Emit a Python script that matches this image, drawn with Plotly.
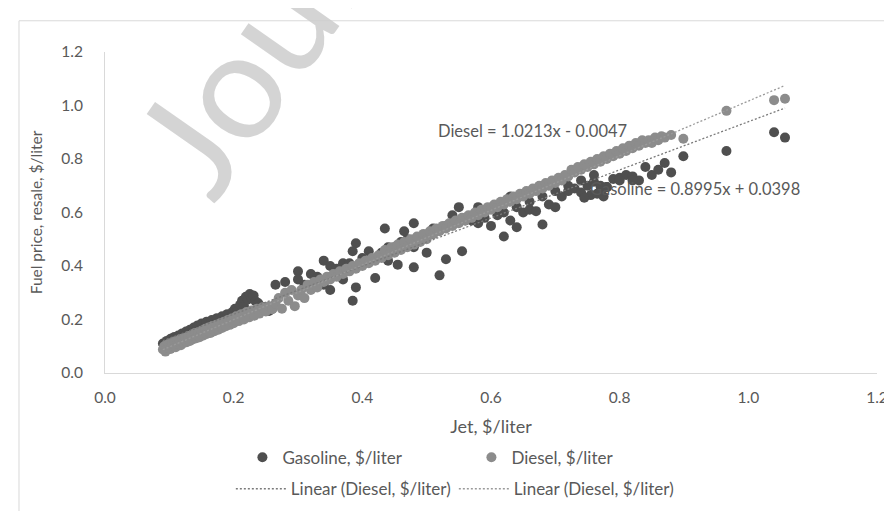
import plotly.graph_objects as go

# ---------------- data ----------------
gas_x = [0.090, 0.093, 0.096, 0.099, 0.102, 0.105, 0.108, 0.111, 0.114, 0.117,
         0.120, 0.123, 0.126, 0.129, 0.132, 0.135, 0.138, 0.141, 0.144, 0.147,
         0.150, 0.154, 0.158, 0.162, 0.166, 0.170, 0.174, 0.178, 0.182, 0.186,
         0.190, 0.194, 0.198, 0.202, 0.206, 0.210, 0.213, 0.216, 0.219, 0.222,
         0.225, 0.228, 0.231, 0.234, 0.238, 0.242, 0.246, 0.250, 0.255, 0.260,
         0.265, 0.280, 0.300, 0.320, 0.340, 0.350, 0.350, 0.385, 0.390, 0.390,
         0.385, 0.410, 0.420, 0.435, 0.455, 0.465, 0.480, 0.480, 0.500, 0.510,
         0.520, 0.530, 0.540, 0.550, 0.555, 0.560, 0.570, 0.580, 0.580, 0.590,
         0.600, 0.610, 0.620, 0.630, 0.630, 0.640, 0.650, 0.660, 0.670, 0.680,
         0.690, 0.700, 0.710, 0.720, 0.730, 0.740, 0.750, 0.760, 0.770, 0.780,
         0.790, 0.800, 0.810, 0.820, 0.830, 0.840, 0.850, 0.860, 0.870, 0.880,
         0.899, 0.966, 1.040, 1.057, 0.440, 0.460, 0.360, 0.300, 0.330, 0.370,
         0.310, 0.360, 0.380, 0.400, 0.430, 0.450, 0.470, 0.490, 0.510, 0.530,
         0.560, 0.590, 0.480, 0.440, 0.370, 0.340, 0.755, 0.765, 0.775, 0.820,
         0.745, 0.800, 0.780, 0.770, 0.760, 0.740, 0.720, 0.700, 0.680, 0.660,
         0.640, 0.620]
gas_y = [0.110, 0.100, 0.120, 0.108, 0.128, 0.115, 0.135, 0.120, 0.140, 0.128,
         0.148, 0.134, 0.155, 0.140, 0.162, 0.148, 0.170, 0.155, 0.178, 0.160,
         0.185, 0.168, 0.192, 0.175, 0.198, 0.182, 0.205, 0.190, 0.212, 0.198,
         0.220, 0.205, 0.228, 0.240, 0.232, 0.255, 0.270, 0.250, 0.285, 0.275,
         0.295, 0.280, 0.290, 0.268, 0.262, 0.250, 0.240, 0.245, 0.232, 0.240,
         0.330, 0.340, 0.380, 0.370, 0.420, 0.400, 0.310, 0.270, 0.320, 0.485,
         0.455, 0.455, 0.355, 0.540, 0.405, 0.530, 0.560, 0.395, 0.450, 0.540,
         0.365, 0.425, 0.590, 0.620, 0.455, 0.570, 0.570, 0.560, 0.620, 0.580,
         0.550, 0.590, 0.510, 0.570, 0.660, 0.545, 0.600, 0.610, 0.605, 0.555,
         0.630, 0.620, 0.660, 0.680, 0.690, 0.675, 0.700, 0.715, 0.700, 0.695,
         0.725, 0.730, 0.740, 0.735, 0.720, 0.770, 0.740, 0.760, 0.785, 0.750,
         0.810, 0.830, 0.900, 0.880, 0.470, 0.490, 0.390, 0.350, 0.360, 0.410,
         0.330, 0.370, 0.410, 0.430, 0.450, 0.470, 0.500, 0.500, 0.520, 0.550,
         0.580, 0.600, 0.470, 0.420, 0.350, 0.330, 0.665, 0.670, 0.660, 0.720,
         0.655, 0.720, 0.695, 0.680, 0.740, 0.720, 0.700, 0.680, 0.660, 0.640,
         0.620, 0.600]

diesel_x = [0.090, 0.092, 0.094, 0.096, 0.098, 0.100, 0.102, 0.104, 0.106, 0.108,
            0.110, 0.112, 0.114, 0.116, 0.118, 0.120, 0.122, 0.125, 0.127, 0.130,
            0.132, 0.135, 0.137, 0.140, 0.142, 0.145, 0.147, 0.150, 0.153, 0.156,
            0.158, 0.161, 0.164, 0.167, 0.170, 0.173, 0.176, 0.179, 0.182, 0.185,
            0.188, 0.191, 0.194, 0.197, 0.200, 0.204, 0.208, 0.212, 0.216, 0.220,
            0.224, 0.228, 0.232, 0.236, 0.240, 0.245, 0.250, 0.255, 0.260,
            0.265, 0.270, 0.275, 0.280, 0.285, 0.290, 0.295, 0.300, 0.305, 0.310,
            0.315, 0.320, 0.325, 0.330, 0.335, 0.340, 0.345, 0.350, 0.355, 0.360,
            0.365, 0.370, 0.375, 0.380, 0.385, 0.390, 0.395, 0.400, 0.405, 0.410,
            0.415, 0.420, 0.425, 0.430, 0.435, 0.440, 0.445, 0.450, 0.455, 0.460,
            0.465, 0.470, 0.475, 0.480, 0.485, 0.490, 0.495, 0.500, 0.505, 0.510,
            0.515, 0.520, 0.525, 0.530, 0.535, 0.540, 0.545, 0.550, 0.555, 0.560,
            0.565, 0.570, 0.575, 0.580, 0.585, 0.590, 0.595, 0.600,
            0.605, 0.610, 0.615, 0.620, 0.625, 0.630, 0.635, 0.640, 0.645, 0.650,
            0.655, 0.660, 0.665, 0.670, 0.675, 0.680, 0.685, 0.690, 0.695, 0.700,
            0.705, 0.710, 0.715, 0.720, 0.725, 0.730, 0.735, 0.740, 0.745, 0.750,
            0.755, 0.760, 0.765, 0.770, 0.775, 0.780, 0.785, 0.790, 0.795, 0.800,
            0.805, 0.810, 0.815, 0.820, 0.825, 0.830, 0.835, 0.840, 0.845, 0.850,
            0.855, 0.860, 0.865, 0.870, 0.880, 0.899, 0.966, 1.040, 1.057]
diesel_y = [0.088, 0.100, 0.080, 0.105, 0.094, 0.110, 0.090, 0.112, 0.100, 0.118,
            0.096, 0.120, 0.108, 0.125, 0.104, 0.128, 0.112, 0.132, 0.115, 0.138,
            0.120, 0.142, 0.126, 0.150, 0.130, 0.152, 0.134, 0.158, 0.140, 0.165,
            0.146, 0.170, 0.150, 0.176, 0.156, 0.180, 0.162, 0.186, 0.168, 0.192,
            0.175, 0.198, 0.180, 0.204, 0.186, 0.212, 0.194, 0.220, 0.200, 0.228,
            0.208, 0.234, 0.214, 0.240, 0.222, 0.246, 0.230, 0.250, 0.238,
            0.260, 0.280, 0.240, 0.300, 0.270, 0.310, 0.250, 0.290, 0.310, 0.280,
            0.330, 0.310, 0.340, 0.320, 0.350, 0.340, 0.360, 0.350, 0.370, 0.360,
            0.380, 0.370, 0.390, 0.380, 0.400, 0.390, 0.410, 0.400, 0.420, 0.410,
            0.430, 0.420, 0.440, 0.430, 0.460, 0.440, 0.470, 0.450, 0.480, 0.460,
            0.490, 0.470, 0.500, 0.480, 0.510, 0.490, 0.520, 0.500, 0.530, 0.520,
            0.540, 0.530, 0.550, 0.540, 0.560, 0.550, 0.570, 0.560, 0.580, 0.570,
            0.590, 0.580, 0.600, 0.590, 0.610, 0.600, 0.620, 0.610,
            0.630, 0.620, 0.640, 0.630, 0.650, 0.640, 0.660, 0.650, 0.670, 0.660,
            0.680, 0.670, 0.690, 0.680, 0.700, 0.690, 0.710, 0.700, 0.720, 0.710,
            0.730, 0.720, 0.740, 0.735, 0.760, 0.750, 0.770, 0.760, 0.780, 0.770,
            0.790, 0.780, 0.800, 0.790, 0.810, 0.800, 0.820, 0.810, 0.830, 0.820,
            0.840, 0.830, 0.850, 0.840, 0.860, 0.850, 0.870, 0.860, 0.870, 0.860,
            0.880, 0.870, 0.885, 0.880, 0.890, 0.876, 0.980, 1.020, 1.025]

# linear trend coefficients (as printed on the chart)
diesel_slope, diesel_intercept = 1.0213, -0.0047
gas_slope, gas_intercept = 0.8995, 0.0398

x_ticks = [0.0, 0.2, 0.4, 0.6, 0.8, 1.0, 1.2]
y_ticks = [0.0, 0.2, 0.4, 0.6, 0.8, 1.0, 1.2]

series_names = ["Gasoline, $/liter", "Diesel, $/liter"]
trend_names = ["Linear (Diesel, $/liter)", "Linear (Diesel, $/liter)"]

# ---------------- figure ----------------
FONT = "Lato, 'Open Sans', sans-serif"
TXT = "#595959"
GAS_C = "#4f4f4f"
DIE_C = "#8c8c8c"

fig = go.Figure()

fig.add_trace(go.Scatter(x=gas_x, y=gas_y, mode="markers", name=series_names[0],
                         marker=dict(color=GAS_C, size=10, line=dict(width=0)),
                         legend="legend"))
fig.add_trace(go.Scatter(x=diesel_x, y=diesel_y, mode="markers", name=series_names[1],
                         marker=dict(color=DIE_C, size=10, line=dict(width=0)),
                         legend="legend"))

d_tx = [min(diesel_x), max(diesel_x)]
d_ty = [diesel_slope * v + diesel_intercept for v in d_tx]
g_tx = [min(gas_x), max(gas_x)]
g_ty = [gas_slope * v + gas_intercept for v in g_tx]

fig.add_trace(go.Scatter(x=g_tx, y=g_ty, mode="lines", name=trend_names[0],
                         line=dict(color="#7a7a7a", width=1.3, dash="2px,2px"),
                         legend="legend2"))
fig.add_trace(go.Scatter(x=d_tx, y=d_ty, mode="lines", name=trend_names[1],
                         line=dict(color="#9a9a9a", width=1.3, dash="2px,2px"),
                         legend="legend2"))

fig.add_annotation(x=0.664, y=0.905, xref="x", yref="y",
                   text="Diesel = 1.0213x - 0.0047", showarrow=False,
                   font=dict(family=FONT, size=16.5, color=TXT))
fig.add_annotation(x=0.917, y=0.687, xref="x", yref="y",
                   text="Gasoline = 0.8995x + 0.0398", showarrow=False,
                   font=dict(family=FONT, size=16.5, color=TXT))

# watermark
fig.add_annotation(x=0.506, y=2.09, xref="paper", yref="paper",
                   text="Journal Pre-proof", showarrow=False, textangle=-55,
                   xanchor="center", yanchor="middle",
                   font=dict(family=FONT, size=150, color="rgba(205,205,205,0.85)"))

# chart-area border (Excel chart frame)
fig.add_shape(type="rect", xref="paper", yref="paper",
              x0=-0.1114, x1=1.03, y0=-0.45, y1=1.0973,
              line=dict(color="#d9d9d9", width=1), fillcolor="rgba(0,0,0,0)", layer="below")

axis_common = dict(range=[0, 1.2], showgrid=False, zeroline=False,
                   showline=True, linecolor="#d9d9d9", linewidth=1,
                   ticks="", tickformat=".1f",
                   tickfont=dict(family=FONT, size=15.5, color=TXT))

fig.update_layout(
    width=892, height=511,
    margin=dict(l=97, r=14, t=44, b=138),
    paper_bgcolor="white", plot_bgcolor="white",
    font=dict(family=FONT, color=TXT),
    xaxis=dict(**axis_common, tickvals=x_ticks, ticklabelstandoff=10,
               title=dict(text="Jet, $/liter", standoff=15,
                          font=dict(family=FONT, size=18, color=TXT))),
    yaxis=dict(**axis_common, tickvals=y_ticks, ticklabelstandoff=18,
               title=dict(text="Fuel price, resale, $/liter", standoff=14,
                          font=dict(family=FONT, size=15.5, color=TXT))),
    legend=dict(orientation="h", x=0.178, y=-0.264, xanchor="left", yanchor="middle",
                font=dict(family=FONT, size=17, color=TXT),
                entrywidth=184, entrywidthmode="pixels", bgcolor="rgba(0,0,0,0)"),
    legend2=dict(orientation="h", x=0.163, y=-0.362, xanchor="left", yanchor="middle",
                 font=dict(family=FONT, size=17, color=TXT), itemwidth=50,
                 entrywidth=158, entrywidthmode="pixels", bgcolor="rgba(0,0,0,0)"),
    showlegend=True,
)

fig.write_html("out.html")
